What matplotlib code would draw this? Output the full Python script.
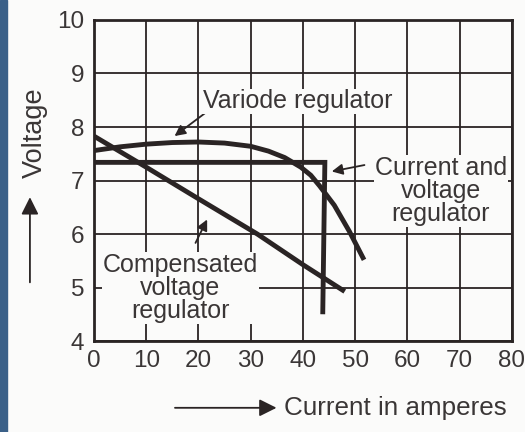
import matplotlib.pyplot as plt
from matplotlib.patches import Rectangle, FancyArrowPatch

plt.rcParams['font.family'] = ['Liberation Sans', 'DejaVu Sans']

# curves
variode_x = [0, 5, 10, 15, 20, 25, 30, 33.4, 36.5, 39.6, 41.5, 43.2, 46, 48.9, 51.7]
variode_y = [7.56, 7.63, 7.68, 7.71, 7.72, 7.7, 7.64, 7.55, 7.43, 7.25, 7.1, 6.9, 6.54, 6.05, 5.52]

cvr_x = [0, 44.2, 43.8]
cvr_y = [7.34, 7.34, 4.55]

comp_x = [0, 10, 20, 31.3, 40, 48]
comp_y = [7.83, 7.25, 6.66, 6.0, 5.43, 4.93]

x_ticks = [0, 10, 20, 30, 40, 50, 60, 70, 80]
y_ticks = [4, 5, 6, 7, 8, 9, 10]

ink = '#2a2424'
txt = '#3a3636'
paper = '#fbfbfa'

fig = plt.figure(figsize=(5.25, 4.32), dpi=100, facecolor=paper)
fig.patches.append(Rectangle((0, 0), 0.014, 1, transform=fig.transFigure,
                             color='#3b6088', zorder=0))
ax = fig.add_axes([0.179, 0.21, 0.796, 0.744])
ax.set_facecolor(paper)

ax.plot(variode_x, variode_y, color=ink, lw=3.5, solid_capstyle='butt')
ax.plot(cvr_x, cvr_y, color=ink, lw=3.5, solid_joinstyle='miter')
ax.plot(comp_x, comp_y, color=ink, lw=3.5, solid_capstyle='butt')

ax.set_xlim(0, 80)
ax.set_ylim(4, 10)
ax.set_xticks(x_ticks)
ax.set_yticks(y_ticks)
ax.grid(True, color=ink, lw=1.3)
ax.set_axisbelow(True)
for s in ax.spines.values():
    s.set_color(ink)
    s.set_linewidth(2)
ax.tick_params(length=0, labelsize=17.5, colors=txt)
ax.tick_params(axis='y', pad=7)
ax.tick_params(axis='x', pad=6)

arw = dict(arrowstyle='-|>', color=ink, lw=1.3, mutation_scale=16)
box = dict(facecolor=paper, edgecolor='none', pad=0.5)
ax.annotate('', xy=(15, 7.8), xytext=(23.6, 8.43), arrowprops=arw)
ax.text(20.8, 8.48, 'Variode regulator', fontsize=18, color=txt,
        ha='left', va='center', bbox=box)
ax.annotate('', xy=(45.0, 7.16), xytext=(52.3, 7.3), arrowprops=arw)
ax.text(66.4, 6.81, 'Current and\nvoltage\nregulator', fontsize=18, color=txt,
        ha='center', va='center', linespacing=0.95, bbox=box)
ax.annotate('', xy=(21.9, 6.32), xytext=(19.2, 5.79), arrowprops=arw)
ax.text(16.5, 5.0, 'Compensated\nvoltage\nregulator', fontsize=18, color=txt,
        ha='center', va='center', linespacing=0.95, bbox=box)

fig.text(0.067, 0.694, 'Voltage', rotation=90, fontsize=19.5, color=txt,
         ha='center', va='center')
fig.patches.append(FancyArrowPatch((0.057, 0.34), (0.057, 0.55),
                                   transform=fig.transFigure, arrowstyle='-|>',
                                   mutation_scale=26, color=ink, lw=1.3))
fig.patches.append(FancyArrowPatch((0.328, 0.056), (0.532, 0.056),
                                   transform=fig.transFigure, arrowstyle='-|>',
                                   mutation_scale=26, color=ink, lw=1.3))
fig.text(0.54, 0.056, 'Current in amperes', fontsize=18.7, color=txt,
         ha='left', va='center')

fig.savefig('out.png', dpi=100, facecolor=fig.get_facecolor())
